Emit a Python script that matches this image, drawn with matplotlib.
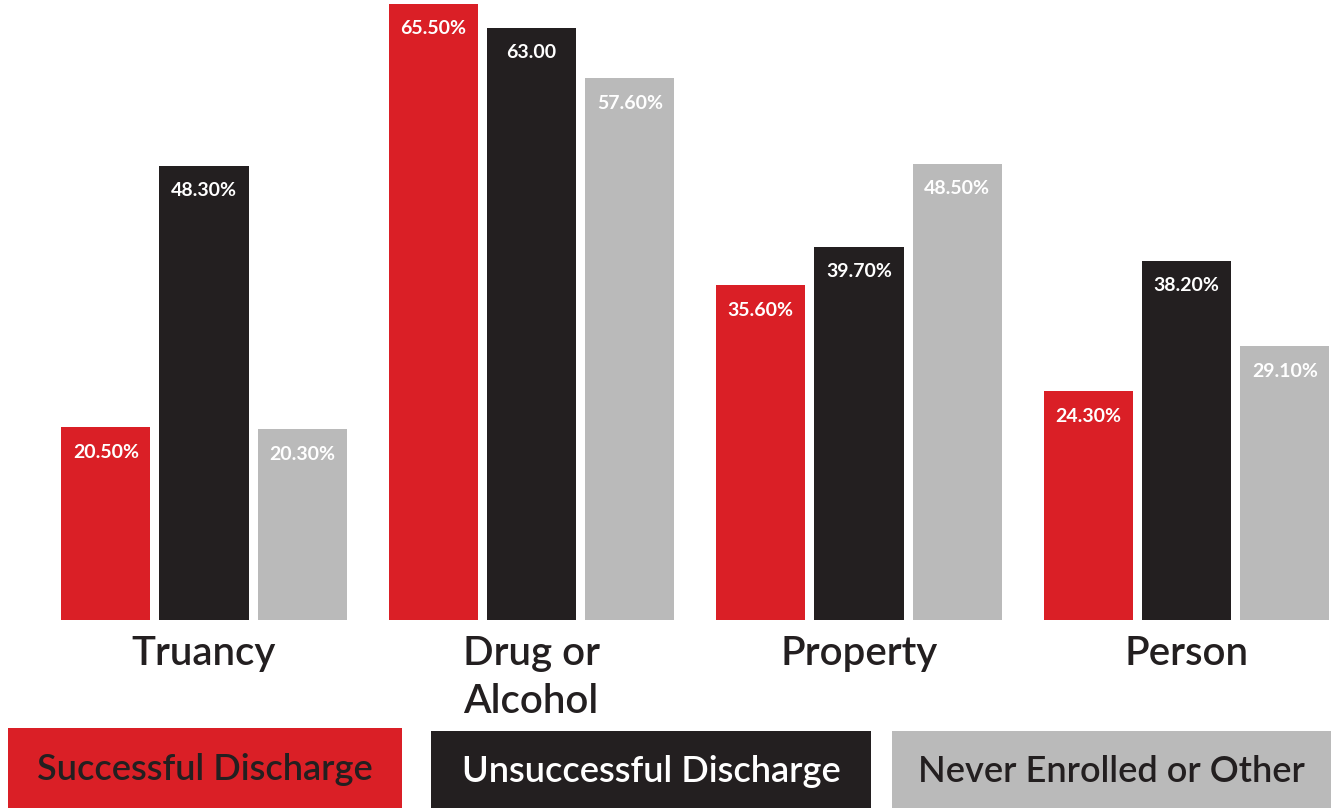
import matplotlib
matplotlib.use('Agg')
import numpy as np
import matplotlib.pyplot as plt
from matplotlib.patches import Rectangle

# Chart data
categories = ['Truancy', 'Drug or\nAlcohol', 'Property', 'Person']
series_names = ['Successful Discharge', 'Unsuccessful Discharge', 'Never Enrolled or Other']
successful = [20.5, 65.5, 35.6, 24.3]
unsuccessful = [48.3, 63.0, 39.7, 38.2]
never_enrolled = [20.3, 57.6, 48.5, 29.1]
successful_labels = ['20.50%', '65.50%', '35.60%', '24.30%']
unsuccessful_labels = ['48.30%', '63.00', '39.70%', '38.20%']
never_labels = ['20.30%', '57.60%', '48.50%', '29.10%']

RED = '#da1f26'
BLACK = '#231f20'
GRAY = '#bababa'

plt.rcParams['font.family'] = ['Lato', 'DejaVu Sans']

W, H = 1331, 808
fig = plt.figure(figsize=(W / 100, H / 100), dpi=100)

# axes: baseline at 620px from top, full width
ax = fig.add_axes([0, (H - 620) / H, 1, 620 / H])
ax.set_xlim(-204 / 327.5, (W - 204) / 327.5)
ax.set_ylim(0, 65.5 * 620 / 616)
ax.axis('off')

x = np.arange(len(categories))
width = 0.272
step = 0.30

series = [
    (successful, successful_labels, RED, -step),
    (unsuccessful, unsuccessful_labels, BLACK, 0),
    (never_enrolled, never_labels, GRAY, step),
]

for vals, labels, color, off in series:
    bars = ax.bar(x + off, vals, width, color=color)
    for b, lab in zip(bars, labels):
        ax.annotate(lab, (b.get_x() + b.get_width() / 2, b.get_height()),
                    xytext=(0, -25), textcoords='offset pixels',
                    ha='center', va='center', color='white',
                    fontsize=14, fontweight='bold')

# category labels under the groups
for xi, cat in zip(x, categories):
    ax.annotate(cat, (xi, 0), xytext=(0, -15), textcoords='offset pixels',
                ha='center', va='top', multialignment='left', color=BLACK,
                fontsize=29, fontweight='semibold', linespacing=1.38,
                annotation_clip=False)

# legend boxes along the bottom
legend_boxes = [(8, 728, 402, RED, BLACK),
                (431, 731, 871, BLACK, 'white'),
                (892, 731, 1331, GRAY, BLACK)]
for name, (x0, y0, x1, fc, tc) in zip(series_names, legend_boxes):
    fig.add_artist(Rectangle((x0 / W, 0), (x1 - x0) / W, (H - y0) / H,
                             transform=fig.transFigure, facecolor=fc,
                             edgecolor='none'))
    fig.text((x0 + x1) / 2 / W, (H - (y0 + 808) / 2 - 2) / H, name,
             ha='center', va='center', color=tc, fontsize=26,
             fontweight='semibold')

fig.savefig('out.png', dpi=100)
